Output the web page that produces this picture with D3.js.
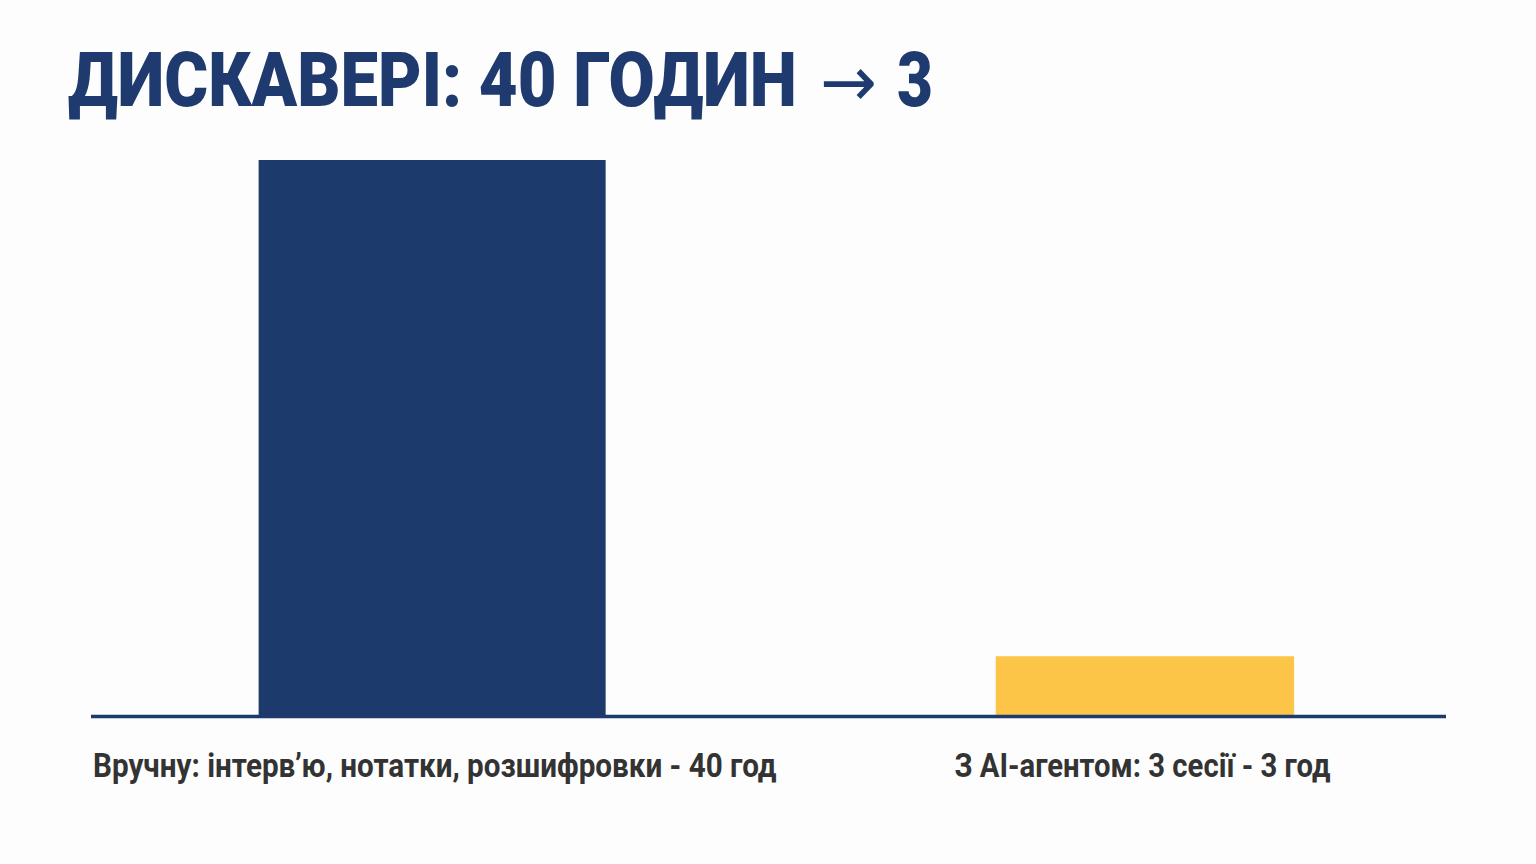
<!DOCTYPE html>
<html>
<head>
<meta charset="utf-8">
<script src="https://cdn.jsdelivr.net/npm/d3@7"></script>
<style>
  html, body { margin: 0; padding: 0; background: #fdfdfd; }
  svg { display: block; }
</style>
</head>
<body>
<div id="chart"></div>
<script>
// Data
const categories = ["manual", "agent"];
const barLabels = [
  "Вручну: інтерв’ю, нотатки, розшифровки - 40 год",
  "З AI-агентом: 3 сесії - 3 год"
];
const barValues = [40, 4.3]; // bar heights as drawn in the picture
const titleParts = ["ДИСКАВЕРІ: 40 ГОДИН", "→", "3"];

// Setup
const width = 1536, height = 864;
const plot = { left: 91, right: 1446, top: 160, bottom: 716 };
const colors = ["#1c3a6b", "#fcc548"];
// bar span within each band, and label offset (fractions of the band)
const barSpan = [[0.2474, 0.7596], [0.3354, 0.7758]];
const labelOffset = [0.003, 0.2745];
const labelWidth = [684, 376];

const svg = d3.select("#chart").append("svg")
  .attr("width", width)
  .attr("height", height);

svg.append("rect").attr("width", width).attr("height", height).attr("fill", "#fdfdfd");

// squeeze a text horizontally to a target width (keeps its box honest)
function fitWidth(sel, x, y, target) {
  sel.each(function (d, i) {
    const w = this.getComputedTextLength();
    const sx = w > 0 ? target(d, i) / w : 1;
    d3.select(this).attr("transform", `translate(${x(d, i)},${y}) scale(${sx},1)`);
  });
}

// Title
const titleSpec = [
  { x: 68, len: 729, family: "Roboto, sans-serif", weight: 900, size: 76 },
  { x: 820, len: 57, family: "'DejaVu Sans', sans-serif", weight: 400, size: 70 },
  { x: 897, len: 36, family: "Roboto, sans-serif", weight: 900, size: 76 }
];
svg.append("g").selectAll("text")
  .data(titleParts)
  .join("text")
  .attr("font-family", (d, i) => titleSpec[i].family)
  .attr("font-weight", (d, i) => titleSpec[i].weight)
  .attr("font-size", (d, i) => titleSpec[i].size)
  .attr("fill", "#1e3a6e")
  .text(d => d)
  .call(fitWidth, (d, i) => titleSpec[i].x, 106, (d, i) => titleSpec[i].len);

// Scales
const x = d3.scaleBand().domain(categories).range([plot.left, plot.right]).padding(0);
const y = d3.scaleLinear().domain([0, d3.max(barValues)]).range([plot.bottom, plot.top]);

const data = categories.map((c, i) => ({ key: c, value: barValues[i], label: barLabels[i], i }));

// Bars
svg.append("g").selectAll("rect")
  .data(data)
  .join("rect")
  .attr("x", d => x(d.key) + barSpan[d.i][0] * x.bandwidth())
  .attr("width", d => (barSpan[d.i][1] - barSpan[d.i][0]) * x.bandwidth())
  .attr("y", d => y(d.value))
  .attr("height", d => y(0) - y(d.value))
  .attr("fill", (d, i) => colors[i]);

// Baseline
svg.append("line")
  .attr("x1", plot.left)
  .attr("x2", plot.right)
  .attr("y1", y(0) + 0.5)
  .attr("y2", y(0) + 0.5)
  .attr("stroke", "#1c3a6b")
  .attr("stroke-width", 3.5);

// Labels
svg.append("g").selectAll("text")
  .data(data)
  .join("text")
  .attr("font-family", "Roboto, sans-serif")
  .attr("font-weight", 700)
  .attr("font-size", 34)
  .attr("fill", "#333333")
  .text(d => d.label)
  .call(fitWidth, d => x(d.key) + labelOffset[d.i] * x.bandwidth(), 777, d => labelWidth[d.i]);
</script>
</body>
</html>
